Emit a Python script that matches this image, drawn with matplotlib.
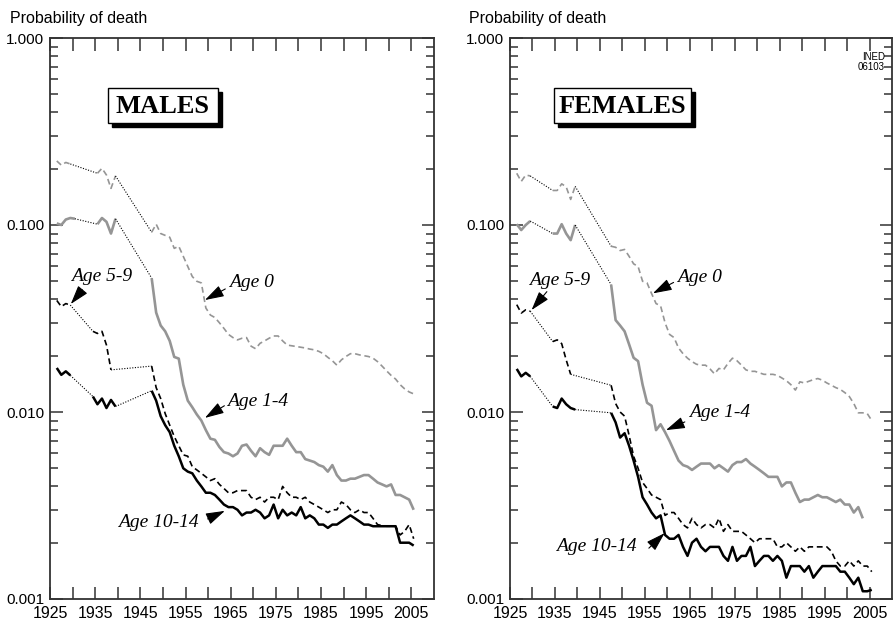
import numpy as np
import matplotlib
matplotlib.use('Agg')
import matplotlib.pyplot as plt
from matplotlib.patches import Rectangle

# 사망 확률 (로그 스케일), 1926-2005
years = np.arange(1926, 2006)

m_age0 = ([0.220, 0.209, 0.216, 0.212] + [None] * 5
          + [0.189, 0.201, 0.185, 0.157, 0.183] + [None] * 7
          + [0.0915, 0.101, 0.090, 0.088, 0.086, 0.075, 0.077, 0.068, 0.060, 0.053,
             0.050, 0.049, 0.036, 0.033, 0.032, 0.030, 0.028, 0.026, 0.025, 0.0243,
             0.0248, 0.0250, 0.0225, 0.0218, 0.0233, 0.0240, 0.0248, 0.0255, 0.0255, 0.0240,
             0.0228, 0.0226, 0.0224, 0.0222, 0.0220, 0.0217, 0.0215, 0.0211, 0.0205, 0.0196,
             0.0188, 0.0178, 0.0190, 0.0198, 0.0205, 0.0205, 0.0202, 0.0200, 0.0198, 0.0194,
             0.0186, 0.0176, 0.0166, 0.0157, 0.0150, 0.0140, 0.0133, 0.0128, 0.0125])
m_age1_4 = ([0.102, 0.100, 0.107, 0.109, 0.108] + [None] * 4
            + [0.101, 0.109, 0.104, 0.090, 0.108] + [None] * 7
            + [0.052, 0.034, 0.029, 0.027, 0.024, 0.0197, 0.0193, 0.014, 0.0115, 0.0106,
               0.0097, 0.0090, 0.0080, 0.0072, 0.0071, 0.0065, 0.0061, 0.0060, 0.0058, 0.0060,
               0.0066, 0.0067, 0.0062, 0.0058, 0.0064, 0.0061, 0.0059, 0.0066, 0.0066, 0.0066,
               0.0072, 0.0066, 0.0061, 0.0061, 0.0056, 0.0055, 0.0054, 0.0052, 0.0051, 0.0048,
               0.0052, 0.0046, 0.0043, 0.0043, 0.0044, 0.0044, 0.0045, 0.0046, 0.0046, 0.0044,
               0.0042, 0.0041, 0.0040, 0.0041, 0.0036, 0.0036, 0.0035, 0.0034, 0.0030])
m_age5_9 = ([0.0395, 0.0366, 0.038, 0.0373] + [None] * 4
            + [0.027, 0.0263, 0.027, 0.0228, 0.0168] + [None] * 8
            + [0.0176, 0.0135, 0.0118, 0.0098, 0.0085, 0.0074, 0.0066, 0.0059, 0.0058, 0.0051,
               0.0049, 0.0047, 0.0045, 0.0043, 0.0044, 0.0041, 0.0039, 0.0037, 0.0037, 0.0038,
               0.0038, 0.0038, 0.0035, 0.0034, 0.0035, 0.0033, 0.0035, 0.0035, 0.0034, 0.0040,
               0.0037, 0.0035, 0.0035, 0.0034, 0.0035, 0.0033, 0.0032, 0.0031, 0.0030, 0.0029,
               0.0030, 0.0030, 0.0033, 0.0032, 0.0030, 0.0029, 0.0030, 0.0029, 0.0029, 0.0027,
               0.0025, 0.00247, 0.00245, 0.00245, 0.00245, 0.0022, 0.0023, 0.0025, 0.0021])
m_age10_14 = ([0.0172, 0.0158, 0.0165, 0.0157] + [None] * 4
              + [0.0121, 0.0110, 0.0118, 0.0105, 0.0116, 0.0107] + [None] * 7
              + [0.0130, 0.0115, 0.0095, 0.0085, 0.0078, 0.0066, 0.0058, 0.0050, 0.0048, 0.0047,
                 0.0043, 0.0040, 0.0037, 0.0037, 0.0036, 0.0034, 0.0032, 0.0031, 0.0031, 0.0030,
                 0.0028, 0.0029, 0.0029, 0.0030, 0.0029, 0.0027, 0.0028, 0.0032, 0.0027, 0.0030,
                 0.0028, 0.0029, 0.0028, 0.0031, 0.0027, 0.0028, 0.0027, 0.0025, 0.0025, 0.0024,
                 0.0025, 0.0025, 0.0026, 0.0027, 0.0028, 0.0027, 0.0026, 0.0025, 0.0025, 0.00245,
                 0.00245, 0.00245, 0.00245, 0.00245, 0.00245, 0.0020, 0.0020, 0.0020, 0.00193])

f_age0 = ([0.189, 0.171, 0.185, 0.183] + [None] * 4
          + [0.153, 0.153, 0.166, 0.160, 0.137, 0.161] + [None] * 7
          + [0.077, 0.076, 0.073, 0.074, 0.068, 0.062, 0.060, 0.050, 0.049, 0.043,
             0.038, 0.037, 0.030, 0.026, 0.025, 0.022, 0.0205, 0.0194, 0.0186, 0.0180,
             0.0178, 0.0178, 0.0170, 0.0160, 0.0171, 0.0168, 0.0182, 0.0194, 0.0188, 0.0178,
             0.0168, 0.0165, 0.0165, 0.0162, 0.0159, 0.0159, 0.0159, 0.0157, 0.0152, 0.0147,
             0.0140, 0.0131, 0.0145, 0.0143, 0.0146, 0.0149, 0.0151, 0.0148, 0.0143, 0.0139,
             0.0135, 0.0132, 0.0127, 0.0121, 0.0111, 0.0099, 0.0099, 0.0098, 0.0090])
f_age1_4 = ([0.101, 0.094, 0.100, 0.105] + [None] * 4
            + [0.090, 0.090, 0.101, 0.090, 0.083, 0.100] + [None] * 7
            + [0.048, 0.031, 0.029, 0.027, 0.023, 0.0195, 0.0187, 0.014, 0.0112, 0.0108,
               0.0080, 0.0086, 0.0078, 0.0070, 0.0062, 0.0055, 0.0052, 0.0051, 0.0049, 0.0051,
               0.0053, 0.0053, 0.0053, 0.0050, 0.0052, 0.0050, 0.0048, 0.0052, 0.0054, 0.0054,
               0.0056, 0.0053, 0.0051, 0.0049, 0.0047, 0.0045, 0.0045, 0.0045, 0.0040, 0.0042,
               0.0042, 0.0037, 0.0033, 0.0034, 0.0034, 0.0035, 0.0036, 0.0035, 0.0035, 0.0034,
               0.0033, 0.0034, 0.0032, 0.0032, 0.0029, 0.0031, 0.0027] + [None] * 2)
f_age5_9 = ([0.0375, 0.0338, 0.0352, 0.0346] + [None] * 4
            + [0.0238, 0.0243, 0.0232, 0.0190, 0.0159] + [None] * 8
            + [0.0139, 0.0111, 0.0100, 0.0095, 0.0075, 0.0058, 0.0050, 0.0042, 0.0039, 0.0036,
               0.0035, 0.0034, 0.0028, 0.0029, 0.0029, 0.0027, 0.0025, 0.0024, 0.0027, 0.0025,
               0.0024, 0.0025, 0.0025, 0.0024, 0.0027, 0.0023, 0.0025, 0.0023, 0.0023, 0.0023,
               0.0022, 0.0021, 0.0020, 0.0021, 0.0021, 0.0021, 0.0021, 0.0019, 0.0019, 0.0020,
               0.0019, 0.0018, 0.0019, 0.0018, 0.0019, 0.0019, 0.0019, 0.0019, 0.0019, 0.0018,
               0.0016, 0.0015, 0.0015, 0.0016, 0.0015, 0.0016, 0.0015, 0.0015, 0.0014])
f_age10_14 = ([0.0170, 0.0155, 0.0162, 0.0155] + [None] * 4
              + [0.0107, 0.0105, 0.0118, 0.0110, 0.0105, 0.0103] + [None] * 7
              + [0.0099, 0.0088, 0.0073, 0.0077, 0.0066, 0.0055, 0.0045, 0.0035, 0.0032, 0.0029,
                 0.0027, 0.0028, 0.0022, 0.0021, 0.0021, 0.0022, 0.0019, 0.0017, 0.0020, 0.0021,
                 0.0019, 0.0018, 0.0019, 0.0019, 0.0019, 0.0017, 0.0016, 0.0019, 0.0016, 0.0017,
                 0.0017, 0.0019, 0.0015, 0.0016, 0.0017, 0.0017, 0.0016, 0.0017, 0.0016, 0.0013,
                 0.0015, 0.0015, 0.0015, 0.0014, 0.0015, 0.0013, 0.0014, 0.0015, 0.0015, 0.0015,
                 0.0015, 0.0014, 0.0014, 0.0013, 0.0012, 0.0013, 0.0011, 0.0011, 0.00112])

ytick_vals = [0.001, 0.01, 0.1, 1.0]
ytick_labels = ['0.001', '0.010', '0.100', '1.000']

GREY = '#959595'


def draw_series(ax, vals, color, lw, ls):
    v = np.array(vals, dtype=float)
    x = years + 0.5  # milieu d'annee
    ax.plot(x, v, color=color, lw=lw, ls=ls, solid_capstyle='butt')
    # les annees manquantes sont reliees par un pointille noir
    idx = np.flatnonzero(~np.isnan(v))
    for g in np.flatnonzero(np.diff(idx) > 1):
        a, b = idx[g], idx[g + 1]
        ax.plot([x[a], x[b]], [v[a], v[b]], color='black', lw=0.8, ls=(0, (1, 1.4)))


def age_label(ax, text, txy, tail, tip):
    ax.text(txy[0], txy[1], text, ha='center', va='center', fontsize=14,
            style='italic', family='Liberation Serif')
    ax.annotate('', xy=tip, xytext=tail,
                arrowprops=dict(arrowstyle='-|>,head_length=0.9,head_width=0.28',
                                color='black', lw=0.8, shrinkA=0, shrinkB=0,
                                mutation_scale=13))


def setup_axes(ax):
    ax.set_yscale('log')
    ax.set_ylim(0.001, 1.0)
    ax.set_xlim(1925, 2010)
    ax.set_yticks(ytick_vals)
    ax.set_yticklabels(ytick_labels)
    ax.yaxis.set_minor_locator(matplotlib.ticker.LogLocator(base=10, subs=np.arange(2, 10)))
    ax.yaxis.set_minor_formatter(matplotlib.ticker.NullFormatter())
    xt = np.arange(1925, 2010, 5)
    ax.set_xticks(xt)
    ax.set_xticklabels([str(t) if (t - 1925) % 10 == 0 else '' for t in xt])
    ax.tick_params(which='both', direction='in', top=True, right=True,
                   color='#333333', width=1.1)
    ax.tick_params(axis='x', which='major', length=9, pad=5, labelsize=11.5)
    ax.tick_params(axis='y', which='major', length=9, pad=4, labelsize=11)
    ax.tick_params(axis='y', which='minor', length=6)
    for lab in ax.get_xticklabels() + ax.get_yticklabels():
        lab.set_family('Liberation Sans')
    for s in ax.spines.values():
        s.set_color('#333333')
        s.set_linewidth(1.3)


def title_box(ax, text, x0, x1):
    y0, y1 = 0.8485, 0.911
    ax.add_patch(Rectangle((x0 + 0.0105, y0 - 0.008), x1 - x0, y1 - y0, transform=ax.transAxes,
                           facecolor='black', edgecolor='black', zorder=5))
    ax.add_patch(Rectangle((x0, y0), x1 - x0, y1 - y0, transform=ax.transAxes,
                           facecolor='white', edgecolor='black', lw=1, zorder=6))
    ax.text((x0 + x1) / 2, (y0 + y1) / 2 - 0.002, text, transform=ax.transAxes, ha='center',
            va='center', fontsize=19, fontweight='bold', family='Liberation Serif', zorder=7)


fig = plt.figure(figsize=(8.93, 6.21), dpi=100)
axm = fig.add_axes([50 / 893, 22 / 621, 384 / 893, 561 / 621])
axf = fig.add_axes([510 / 893, 22 / 621, 382 / 893, 561 / 621])

dash = (0, (3.5, 2.2))
for ax, a0, a1, a5, a10 in [(axm, m_age0, m_age1_4, m_age5_9, m_age10_14),
                            (axf, f_age0, f_age1_4, f_age5_9, f_age10_14)]:
    setup_axes(ax)
    draw_series(ax, a0, GREY, 1.2, dash)
    draw_series(ax, a1, GREY, 1.9, '-')
    draw_series(ax, a5, 'black', 1.2, dash)
    draw_series(ax, a10, 'black', 1.8, '-')

title_box(axm, 'MALES', 0.151, 0.4375)
title_box(axf, 'FEMALES', 0.115, 0.474)

age_label(axm, 'Age 5-9', (1936.5, 0.0533), (1932.2, 0.0450), (1929.6, 0.0378))
age_label(axm, 'Age 0', (1969.7, 0.049), (1963.8, 0.0455), (1959.3, 0.0397))
age_label(axm, 'Age 1-4', (1971.0, 0.01145), (1963.6, 0.0108), (1959.3, 0.0093))
age_label(axm, 'Age 10-14', (1948.9, 0.00255), (1959.9, 0.00268), (1963.7, 0.00296))

age_label(axf, 'Age 5-9', (1936.1, 0.0502), (1933.2, 0.0440), (1929.8, 0.0351))
age_label(axf, 'Age 0', (1967.1, 0.0527), (1961.4, 0.0493), (1956.8, 0.0431))
age_label(axf, 'Age 1-4', (1971.6, 0.0099), (1963.9, 0.00885), (1959.7, 0.0080))
age_label(axf, 'Age 10-14', (1944.3, 0.00192), (1955.9, 0.00187), (1959.4, 0.00225))

axf.text(0.982, 0.975, 'INED\n06103', transform=axf.transAxes, ha='right', va='top',
         fontsize=7, family='Liberation Sans', linespacing=0.95)

fig.text(10 / 893, 1 - 18 / 621, 'Probability of death', ha='left', va='center',
         fontsize=11.5, family='Liberation Sans')
fig.text(469 / 893, 1 - 18 / 621, 'Probability of death', ha='left', va='center',
         fontsize=11.5, family='Liberation Sans')

fig.savefig('out.png', dpi=100)
